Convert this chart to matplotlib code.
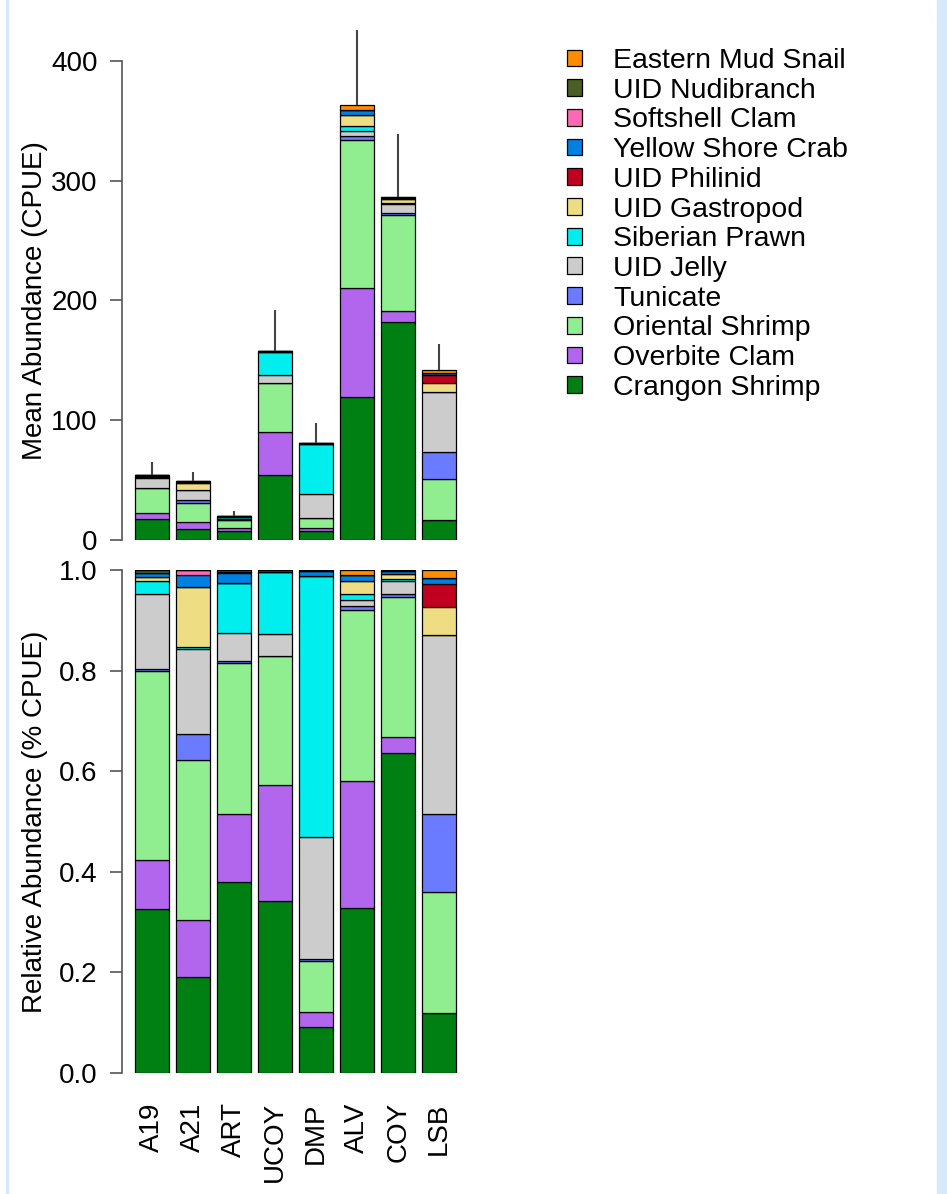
import numpy as np
import matplotlib.pyplot as plt
from matplotlib.patches import Patch, Rectangle

plt.rcParams['font.family'] = ['Liberation Sans', 'DejaVu Sans']

sites = ["A19", "A21", "ART", "UCOY", "DMP", "ALV", "COY", "LSB"]

# mean CPUE per species per site (stacking order, bottom -> top)
crangon   = [17.7, 9.4, 7.6, 54.0, 7.4, 119.4, 182.0, 16.9]
overbite  = [5.2, 5.6, 2.7, 36.5, 2.4, 91.4, 9.2, 0.0]
oriental  = [20.4, 15.7, 6.0, 40.5, 8.3, 123.4, 80.0, 34.2]
tunicate  = [0.2, 2.5, 0.1, 0.0, 0.4, 2.9, 1.7, 22.0]
jelly     = [8.1, 8.4, 1.1, 7.0, 19.7, 4.4, 7.5, 50.6]
prawn     = [1.4, 0.2, 2.0, 19.4, 42.2, 4.4, 1.2, 0.0]
gastropod = [0.4, 5.8, 0.0, 0.0, 0.0, 9.1, 2.9, 7.8]
philinid  = [0.0, 0.0, 0.0, 0.0, 0.0, 0.0, 0.0, 6.5]
crab      = [0.5, 1.2, 0.4, 0.6, 0.8, 4.4, 1.4, 1.7]
softshell = [0.0, 0.5, 0.06, 0.0, 0.0, 0.0, 0.0, 0.0]
nudibr    = [0.3, 0.0, 0.06, 0.0, 0.1, 0.0, 0.6, 0.0]
mudsnail  = [0.0, 0.0, 0.0, 0.0, 0.0, 3.6, 0.0, 2.3]

# upper end of the error bars
err_top = [65, 57, 24, 192, 98, 426, 339, 164]

species = ["Crangon Shrimp", "Overbite Clam", "Oriental Shrimp", "Tunicate",
           "UID Jelly", "Siberian Prawn", "UID Gastropod", "UID Philinid",
           "Yellow Shore Crab", "Softshell Clam", "UID Nudibranch",
           "Eastern Mud Snail"]
colors = ["#008012", "#B266EE", "#90EE90", "#6A7BFF", "#CCCCCC", "#00EEEE",
          "#EEDD82", "#C0001E", "#0080E0", "#FF69B4", "#4B5E23", "#FF8C00"]

data = np.array([crangon, overbite, oriental, tunicate, jelly, prawn,
                 gastropod, philinid, crab, softshell, nudibr, mudsnail])
totals = data.sum(axis=0)
rel = data / totals

W, H = 947, 1194
FS = 20
fig = plt.figure(figsize=(W / 100, H / 100), dpi=100)

# screenshot frame
fig.patches.append(Rectangle((937 / W, 0), 10 / W, 1, transform=fig.transFigure,
                             color="#D6E9FA", zorder=0))
fig.patches.append(Rectangle((6 / W, 0), 1.5 / W, 1, transform=fig.transFigure,
                             color="#D6E9FA", zorder=0))

x = np.arange(len(sites))
xlim = (-0.737, 7.737)
wpx = 8.474 * 41
left = 122 / W
width = wpx / W
lab_x = (48 - 122) / wpx

def setup(ax):
    ax.set_xlim(*xlim)
    for s in ["top", "right", "bottom"]:
        ax.spines[s].set_visible(False)
    ax.spines["left"].set_color("#555555")
    ax.spines["left"].set_linewidth(1.2)
    ax.tick_params(axis="x", length=0, labelbottom=False)
    ax.tick_params(axis="y", length=8.6, width=1.2, labelsize=FS, pad=9, color="#555555")

# top panel
y0 = 540
top_lim = 440
ax1 = fig.add_axes([left, 1 - y0 / H, width, top_lim * 1.1975 / H])
setup(ax1)
ax1.set_ylim(0, top_lim)
bottom = np.zeros(len(sites))
for vals, c in zip(data, colors):
    ax1.bar(x, vals, width=0.833, bottom=bottom, color=c, edgecolor="black", linewidth=0.9)
    bottom += vals
ax1.vlines(x, totals, err_top, color="#444444", linewidth=1.5, clip_on=False)
ax1.set_yticks([0, 100, 200, 300, 400])
ax1.spines["left"].set_bounds(0, 400)
ax1.set_ylabel("Mean Abundance (CPUE)", fontsize=FS)
ax1.yaxis.set_label_coords(lab_x, 200 / top_lim)

# bottom panel
ax2 = fig.add_axes([left, 1 - 1073 / H, width, 503 / H])
setup(ax2)
ax2.set_ylim(0, 1)
bottom = np.zeros(len(sites))
for vals, c in zip(rel, colors):
    ax2.bar(x, vals, width=0.833, bottom=bottom, color=c, edgecolor="black", linewidth=0.9)
    bottom += vals
ax2.set_yticks([0, 0.2, 0.4, 0.6, 0.8, 1.0])
ax2.set_yticklabels(["0.0", "0.2", "0.4", "0.6", "0.8", "1.0"])
ax2.spines["left"].set_bounds(0, 1)
ax2.set_ylabel("Relative Abundance (% CPUE)", fontsize=FS)
ax2.yaxis.set_label_coords(lab_x, 0.5)
for xi, s in zip(x, sites):
    ax2.text(xi, -0.058, s, rotation=90, ha="center", va="top", fontsize=FS)

# legend
handles = [Patch(facecolor=c, edgecolor="black", linewidth=0.9, label=s)
           for s, c in zip(species[::-1], colors[::-1])]
fig.legend(handles=handles, loc="upper left", bbox_to_anchor=(567 / W, 1 - 48 / H),
           frameon=False, fontsize=20.5, handlelength=0.53, handleheight=0.53,
           handletextpad=1.1, labelspacing=0.13, borderpad=0, borderaxespad=0)

fig.savefig("out.png", dpi=100)
